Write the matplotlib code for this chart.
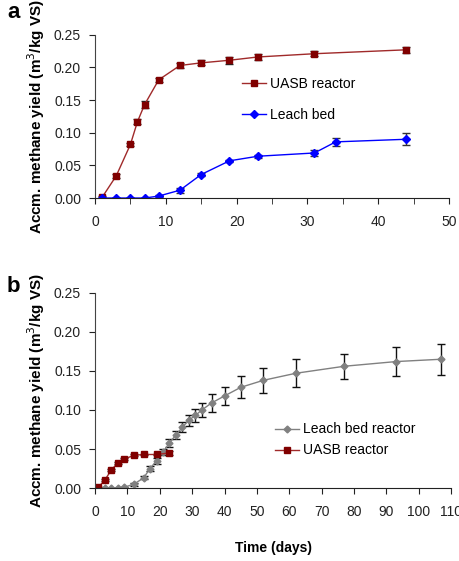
import matplotlib.pyplot as plt
from matplotlib.ticker import MultipleLocator, FormatStrFormatter

plt.rcParams['font.family'] = ['Liberation Sans', 'DejaVu Sans']

# Panel a data
a_uasb_days = [1, 3, 5, 6, 7, 9, 12, 15, 19, 23, 31, 44]
a_uasb_yield = [0.001, 0.034, 0.082, 0.117, 0.143, 0.181, 0.203, 0.207, 0.211, 0.216, 0.221, 0.227]
a_uasb_err = [0.002, 0.003, 0.003, 0.004, 0.005, 0.003, 0.004, 0.004, 0.005, 0.005, 0.004, 0.005]

a_leach_days = [1, 3, 5, 7, 9, 12, 15, 19, 23, 31, 34, 44]
a_leach_yield = [0.0, 0.0, 0.0, 0.0, 0.003, 0.012, 0.036, 0.057, 0.064, 0.069, 0.086, 0.090]
a_leach_err = [0.0, 0.0, 0.0, 0.0, 0.001, 0.004, 0.002, 0.002, 0.002, 0.005, 0.006, 0.009]

# Panel b data
b_leach_days = [1, 3, 5, 7, 9, 12, 15, 17, 19, 21, 23, 25, 27, 29, 31, 33, 36,
                40, 45, 52, 62, 77, 93, 107]
b_leach_yield = [0.0, 0.0, 0.0, 0.0, 0.001, 0.005, 0.013, 0.025, 0.035, 0.046, 0.058,
                 0.068, 0.078, 0.087, 0.093, 0.100, 0.109, 0.118, 0.129, 0.138, 0.147,
                 0.156, 0.162, 0.165]
b_leach_err = [0.0, 0.0, 0.0, 0.0, 0.001, 0.002, 0.002, 0.003, 0.004, 0.004, 0.005,
               0.005, 0.006, 0.007, 0.008, 0.009, 0.011, 0.012, 0.014, 0.016, 0.018,
               0.016, 0.019, 0.020]

b_uasb_days = [1, 3, 5, 7, 9, 12, 15, 19, 23]
b_uasb_yield = [0.001, 0.010, 0.023, 0.032, 0.037, 0.042, 0.043, 0.043, 0.045]
b_uasb_err = [0.0, 0.001, 0.001, 0.001, 0.001, 0.001, 0.001, 0.001, 0.003]

dark_red = '#800000'
red_line = '#a02a2a'
blue = '#0000ff'
grey = '#808080'
ylab = 'Accm. methane yield (m$^{3}$/kg VS)'

fig = plt.figure(figsize=(4.59, 5.61), dpi=100)
ax1 = fig.add_axes([0.207, 0.647, 0.771, 0.291])
ax2 = fig.add_axes([0.207, 0.130, 0.776, 0.348])

# panel a
ax1.errorbar(a_uasb_days, a_uasb_yield, yerr=a_uasb_err, fmt='none',
             ecolor='#222222', elinewidth=1, capsize=3)
ax1.errorbar(a_leach_days, a_leach_yield, yerr=a_leach_err, fmt='none',
             ecolor='#333333', elinewidth=1, capsize=3)
ax1.plot(a_uasb_days, a_uasb_yield, color=red_line, lw=1, marker='s', ms=5,
         mfc=dark_red, mec=dark_red, label='UASB reactor')
ax1.plot(a_leach_days, a_leach_yield, color=blue, lw=1, marker='D', ms=4,
         mfc=blue, mec=blue, label='Leach bed')
ax1.set_xlim(0, 50)
ax1.set_ylim(0, 0.25)
ax1.xaxis.set_major_locator(MultipleLocator(10))
ax1.xaxis.set_minor_locator(MultipleLocator(5))
ax1.legend(loc='upper left', bbox_to_anchor=(0.38, 0.82), frameon=False,
           fontsize=10, handlelength=1.7, handletextpad=0.3, labelspacing=1.25)
ax1.text(-0.248, 1.10, 'a', transform=ax1.transAxes, fontsize=16,
         fontweight='bold', va='baseline')

# panel b
ax2.errorbar(b_leach_days, b_leach_yield, yerr=b_leach_err, fmt='none',
             ecolor='#111111', elinewidth=1, capsize=3)
ax2.errorbar(b_uasb_days, b_uasb_yield, yerr=b_uasb_err, fmt='none',
             ecolor='#222222', elinewidth=1, capsize=3)
ax2.plot(b_leach_days, b_leach_yield, color=grey, lw=1, marker='D', ms=3.5,
         mfc=grey, mec=grey, label='Leach bed reactor')
ax2.plot(b_uasb_days, b_uasb_yield, color=red_line, lw=1, marker='s', ms=5,
         mfc=dark_red, mec=dark_red, label='UASB reactor')
ax2.set_xlim(0, 110)
ax2.set_ylim(0, 0.25)
ax2.xaxis.set_major_locator(MultipleLocator(10))
ax2.legend(loc='upper left', bbox_to_anchor=(0.47, 0.4), frameon=False,
           fontsize=10, handlelength=1.7, handletextpad=0.3, labelspacing=0.5)
ax2.text(-0.248, 1.005, 'b', transform=ax2.transAxes, fontsize=16,
         fontweight='bold', va='baseline')
ax2.set_xlabel('Time (days)', fontsize=10, fontweight='bold', labelpad=16)

for ax in (ax1, ax2):
    ax.spines['top'].set_visible(False)
    ax.spines['right'].set_visible(False)
    ax.spines['left'].set_color('#444444')
    ax.spines['bottom'].set_color('#222222')
    ax.yaxis.set_major_locator(MultipleLocator(0.05))
    ax.yaxis.set_major_formatter(FormatStrFormatter('%.2f'))
    ax.tick_params(axis='y', direction='out', length=4, pad=6, labelsize=10,
                   colors='#222222')
    ax.tick_params(axis='x', which='both', direction='out', length=4, pad=8,
                   labelsize=10, colors='#222222')
    ax.set_ylabel(ylab, fontsize=11, fontweight='bold', labelpad=5)

fig.savefig('out.png', dpi=100)
